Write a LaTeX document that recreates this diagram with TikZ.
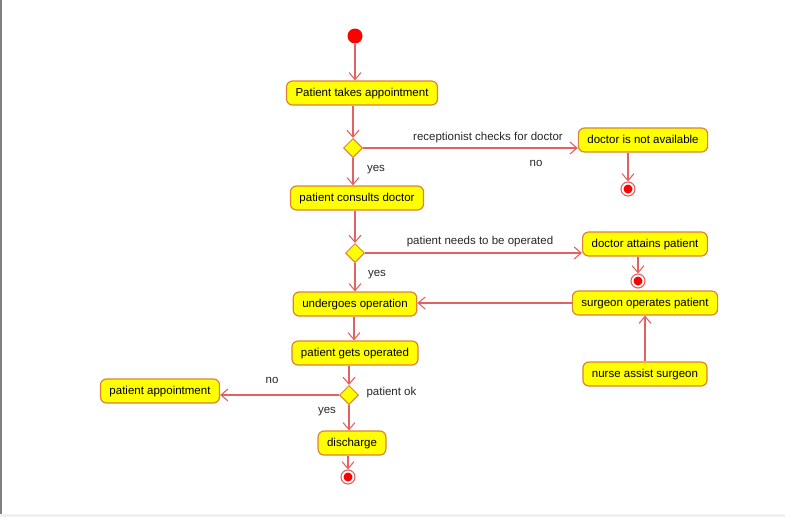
\documentclass[tikz,border=0pt]{standalone}
\usepackage{fontspec}
\setmainfont{Liberation Sans}
\usetikzlibrary{shapes.geometric,arrows.meta}
\definecolor{flowred}{RGB}{226,98,98}
\definecolor{actborder}{RGB}{222,130,52}
\definecolor{actfill}{RGB}{255,255,0}
\begin{document}
\begin{tikzpicture}[x=1pt, y=-1pt,
    act/.style={rectangle, rounded corners=6pt, draw=actborder, fill=actfill, line width=1.2pt, minimum height=24pt, inner xsep=9pt, text height=9pt, text depth=1.5pt, font=\fontsize{11.5}{13}\selectfont},
    choice/.style={diamond, draw=actborder, fill=actfill, line width=1pt, minimum width=19pt, minimum height=19pt, inner sep=0pt},
    startdot/.style={circle, fill=red, minimum size=15pt, inner sep=0pt},
    enddot/.style={circle, draw=flowred, fill=white, line width=1.1pt, minimum size=14pt, inner sep=0pt, path picture={\fill[red] (path picture bounding box.center) circle (4.5pt);}},
    flow/.style={-{Straight Barb[length=7pt,width=12pt]}, flowred, line width=1.1pt},
    lbl/.style={font=\fontsize{11.5}{13}\selectfont, text=black!85}
]
\useasboundingbox (0,0) rectangle (785,517);
\draw[gray, line width=1.2pt] (1,0) -- (1,514);
\fill[black!6] (0,514) rectangle (785,517);

% main column
\node[startdot] (start) at (355,36) {};
\node[act] (takes) at (362,93) {Patient takes appointment};
\node[choice] (check) at (353,148) {};
\node[act] (consult) at (357,198) {patient consults doctor};
\node[choice] (needop) at (355,253) {};
\node[act] (undergo) at (355,304) {undergoes operation};
\node[act] (gets) at (355,353) {patient gets operated};
\node[choice] (ok) at (349,395) {};
\node[act] (discharge) at (352,443) {discharge};
\node[enddot] (endc) at (348,477) {};

% side branches
\node[act] (notavail) at (643,140) {doctor is not available};
\node[enddot] (enda) at (628,189) {};
\node[act] (attains) at (645,244) {doctor attains patient};
\node[enddot] (endb) at (638,281) {};
\node[act] (surgeon) at (645,303) {surgeon operates patient};
\node[act] (nurse) at (645,374) {nurse assist surgeon};
\node[act] (appt) at (160,391) {patient appointment};

\draw[flow] (start) -- (start |- takes.north);
\draw[flow] (takes.south -| check) -- (check.north);
\draw[flow] (check.east) -- (check.east -| notavail.west);
\draw[flow] (notavail.south -| enda) -- (enda.north);
\draw[flow] (check.south) -- (check |- consult.north);
\draw[flow] (consult.south -| needop) -- (needop.north);
\draw[flow] (needop.east) -- (needop.east -| attains.west);
\draw[flow] (attains.south -| endb) -- (endb.north);
\draw[flow] (needop.south) -- (needop |- undergo.north);
\draw[flow] (surgeon.west) -- (surgeon.west -| undergo.east);
\draw[flow] (nurse.north) -- (nurse.north |- surgeon.south);
\draw[flow] (undergo.south -| 354,0) -- (354,0 |- gets.north);
\draw[flow] (gets.south -| ok) -- (ok.north);
\draw[flow] (ok.west) -- (ok.west -| appt.east);
\draw[flow] (ok.south) -- (ok |- discharge.north);
\draw[flow] (discharge.south -| endc) -- (endc.north);

\node[lbl] (lcheck) at (488,138) {receptionist checks for doctor};
\node[lbl] (lno1) at (536,163) {no};
\node[lbl] (lyes1) at (376,170) {yes};
\node[lbl] (lneed) at (480,242) {patient needs to be operated};
\node[lbl] (lyes2) at (377,275) {yes};
\node[lbl] (lno2) at (272,380) {no};
\node[lbl, anchor=west] (lok) at (363,393) {patient ok};
\node[lbl] (lyes3) at (327,412) {yes};
\end{tikzpicture}
\end{document}
